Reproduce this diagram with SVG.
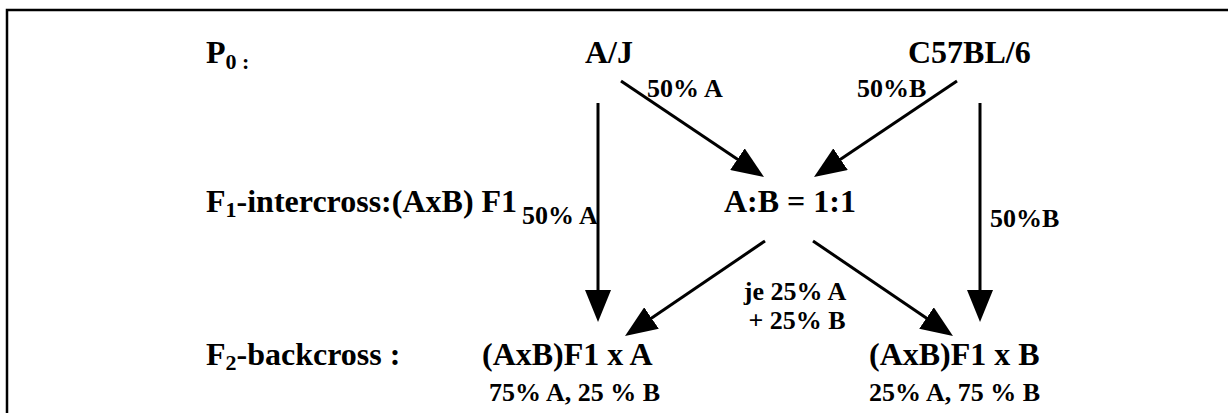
<svg xmlns="http://www.w3.org/2000/svg" width="1228" height="413" viewBox="0 0 1228 413">
  <style>
    text { font-family: "Liberation Serif", "Times New Roman", serif; font-weight: bold; fill: #000; }
    .big { font-size: 32px; }
    .lbl { font-size: 26px; }
    .sub { font-size: 22px; }
    .conn { stroke: #000; stroke-width: 3; fill: none; marker-end: url(#arrow); }
  </style>
  <defs>
    <marker id="arrow" markerUnits="userSpaceOnUse" markerWidth="32" markerHeight="26" refX="22" refY="13" orient="auto">
      <path d="M0,0 L32,13 L0,26 z" fill="#000"/>
    </marker>
  </defs>
  <rect width="1228" height="413" fill="#fff"/>
  <path d="M7,413 V10 H1228" stroke="#000" stroke-width="2.5" fill="none"/>

  <g id="p0-label">
    <text class="big" x="206" y="63">P<tspan class="sub" y="69">0 :</tspan></text>
  </g>
  <g id="aj">
    <text class="big" x="585" y="63">A/J</text>
  </g>
  <g id="c57">
    <text class="big" x="908" y="63">C57BL/6</text>
  </g>
  <g id="f1-label">
    <text class="big" x="206" y="212">F<tspan class="sub" y="217">1</tspan><tspan y="212">-intercross:(AxB) F1</tspan></text>
  </g>
  <g id="ratio">
    <text class="big" x="724" y="212">A:B = 1:1</text>
  </g>
  <g id="f2-label">
    <text class="big" x="206" y="365">F<tspan class="sub" y="370">2</tspan><tspan y="365">-backcross :</tspan></text>
  </g>
  <g id="backcross-a">
    <text class="big" x="482" y="365">(AxB)F1 x A</text>
    <text class="lbl" x="489" y="401">75% A, 25 % B</text>
  </g>
  <g id="backcross-b">
    <text class="big" x="869" y="365">(AxB)F1 x B</text>
    <text class="lbl" x="869" y="401">25% A, 75 % B</text>
  </g>

  <g id="connectors">
    <line class="conn" x1="598" y1="103" x2="598" y2="312"/>
    <line class="conn" x1="980" y1="103" x2="980" y2="312"/>
    <line class="conn" x1="621" y1="81" x2="755.7" y2="171.4"/>
    <line class="conn" x1="957" y1="81" x2="822.3" y2="171.4"/>
    <line class="conn" x1="765" y1="241" x2="633.3" y2="330.4"/>
    <line class="conn" x1="813" y1="241" x2="944.7" y2="330.4"/>
  </g>

  <g id="edge-labels">
    <text class="lbl" x="647" y="97">50% A</text>
    <text class="lbl" x="857" y="97">50%B</text>
    <text class="lbl" x="522" y="224">50% A</text>
    <text class="lbl" x="990" y="227">50%B</text>
    <text class="lbl" x="795" y="300" text-anchor="middle">je 25% A</text>
    <text class="lbl" x="797" y="329" text-anchor="middle">+ 25% B</text>
  </g>
</svg>
